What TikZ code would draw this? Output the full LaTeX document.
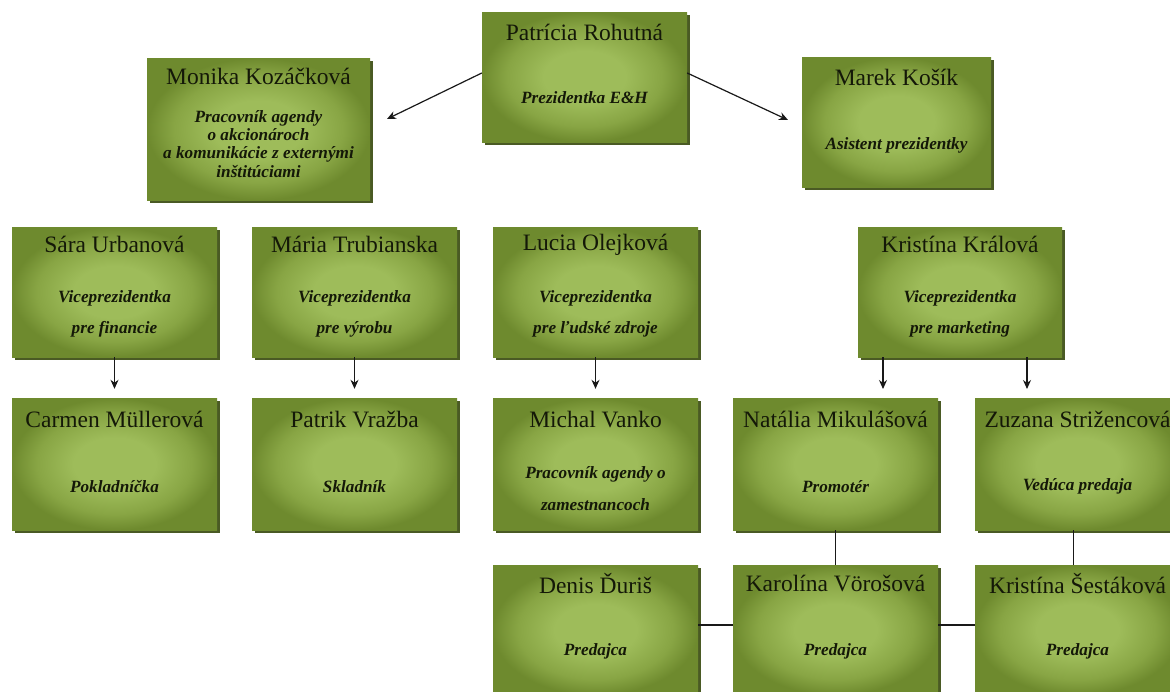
\documentclass[tikz,border=0pt]{standalone}
\usepackage{fontspec}
\setmainfont{Liberation Serif}
\usetikzlibrary{shadows,arrows.meta}
\definecolor{gl}{RGB}{158,188,90}
\definecolor{gm}{RGB}{136,165,68}
\definecolor{gd}{RGB}{110,138,46}
\definecolor{gs}{RGB}{74,90,36}
\definecolor{txt}{RGB}{20,24,8}
\definecolor{ln}{RGB}{25,25,25}
\pgfdeclareradialshading{orgshade}{\pgfpoint{0bp}{0bp}}{color(0bp)=(gl); color(10bp)=(gl); color(19bp)=(gm); color(25bp)=(gd); color(50bp)=(gd)}
\tikzset{
  box/.style={rectangle, inner sep=0pt, shading=orgshade, draw=none,
    drop shadow={shadow xshift=2.5pt, shadow yshift=-2.5pt, fill=gs, opacity=1}},
  nm/.style={inner sep=0pt, text=txt, font=\fontsize{23.5}{26}\selectfont},
  rl/.style={inner sep=0pt, text=txt, align=center, font=\fontsize{17.2}{31}\selectfont\bfseries\itshape},
  rlt/.style={rl, font=\fontsize{17.2}{18.4}\selectfont\bfseries\itshape},
  arr/.style={draw=ln, line width=1.2pt, -{Stealth[length=9pt,width=8pt]}},
  con/.style={draw=ln, line width=1.2pt}
}
\begin{document}
\begin{tikzpicture}[x=1pt,y=-1pt]
\useasboundingbox (0,0) rectangle (1170,691);
\clip (0,0) rectangle (1170,691);
\fill[white] (0,0) rectangle (1170,691);
% row 1
\node[box, minimum width=205pt, minimum height=130pt] (P) at (584.5,77) {};
\node[nm] (Pn) at ([yshift=-21pt]P.north) {Patrícia Rohutná};
\node[rl] (Pr) at ([yshift=-86pt]P.north) {Prezidentka E\&H};
\node[box, minimum width=223pt, minimum height=142pt] (Mo) at (258.5,129) {};
\node[nm] (Mon) at ([yshift=-19pt]Mo.north) {Monika Kozáčková};
\node[rlt] (Mor) at ([yshift=-86pt]Mo.north) {Pracovník agendy\\o akcionároch\\a komunikácie z externými\\inštitúciami};
\node[box, minimum width=189pt, minimum height=130pt] (Ma) at (896.5,122) {};
\node[nm] (Man) at ([yshift=-21pt]Ma.north) {Marek Košík};
\node[rl] (Mar) at ([yshift=-89pt]Ma.north) {Asistent prezidentky};
% row 2
\node[box, minimum width=205pt, minimum height=130pt] (Sa) at (114.5,292) {};
\node[nm] (San) at ([yshift=-18pt]Sa.north) {Sára Urbanová};
\node[rl] (Sar) at ([yshift=-87.5pt]Sa.north) {Viceprezidentka\\pre financie};
\node[box, minimum width=205pt, minimum height=130pt] (Mt) at (354.5,292) {};
\node[nm] (Mtn) at ([yshift=-18pt]Mt.north) {Mária Trubianska};
\node[rl] (Mtr) at ([yshift=-87.5pt]Mt.north) {Viceprezidentka\\pre výrobu};
\node[box, minimum width=205pt, minimum height=130pt] (Lu) at (595.5,292) {};
\node[nm] (Lun) at ([yshift=-18pt]Lu.north) {Lucia Olejková};
\node[rl] (Lur) at ([yshift=-87.5pt]Lu.north) {Viceprezidentka\\pre ľudské zdroje};
\node[box, minimum width=204pt, minimum height=130pt] (Kk) at (960,292) {};
\node[nm] (Kkn) at ([yshift=-18pt]Kk.north) {Kristína Králová};
\node[rl] (Kkr) at ([yshift=-87.5pt]Kk.north) {Viceprezidentka\\pre marketing};
% row 3
\node[box, minimum width=205pt, minimum height=132pt] (Ca) at (114.5,464) {};
\node[nm] (Can) at ([yshift=-22pt]Ca.north) {Carmen Müllerová};
\node[rl] (Car) at ([yshift=-89pt]Ca.north) {Pokladníčka};
\node[box, minimum width=205pt, minimum height=132pt] (Pv) at (354.5,464) {};
\node[nm] (Pvn) at ([yshift=-22pt]Pv.north) {Patrik Vražba};
\node[rl] (Pvr) at ([yshift=-89pt]Pv.north) {Skladník};
\node[box, minimum width=205pt, minimum height=132pt] (Mv) at (595.5,464) {};
\node[nm] (Mvn) at ([yshift=-22pt]Mv.north) {Michal Vanko};
\node[rl, font=\fontsize{17.2}{32}\selectfont\bfseries\itshape] (Mvr) at ([yshift=-91pt]Mv.north) {Pracovník agendy o\\zamestnancoch};
\node[box, minimum width=205pt, minimum height=132pt] (Na) at (835.5,464) {};
\node[nm] (Nan) at ([yshift=-22pt]Na.north) {Natália Mikulášová};
\node[rl] (Nar) at ([yshift=-89pt]Na.north) {Promotér};
\node[box, minimum width=205pt, minimum height=132pt] (Zu) at (1077.5,464) {};
\node[nm] (Zun) at ([yshift=-22pt]Zu.north) {Zuzana Strižencová};
\node[rl] (Zur) at ([yshift=-89pt]Zu.north) {Vedúca predaja};
% row 4
\node[box, minimum width=205pt, minimum height=130pt] (De) at (595.5,630) {};
\node[nm] (Den) at ([yshift=-19pt]De.north) {Denis Ďuriš};
\node[rl] (Der) at ([yshift=-87pt]De.north) {Predajca};
\node[box, minimum width=205pt, minimum height=130pt] (Ka) at (835.5,630) {};
\node[nm] (Kan) at ([yshift=-19pt]Ka.north) {Karolína Vörošová};
\node[rl] (Kar) at ([yshift=-87pt]Ka.north) {Predajca};
\node[box, minimum width=205pt, minimum height=130pt] (Ks) at (1077.5,630) {};
\node[nm] (Ksn) at ([yshift=-19pt]Ks.north) {Kristína Šestáková};
\node[rl] (Ksr) at ([yshift=-87pt]Ks.north) {Predajca};
% free ends
\coordinate (aL) at (387,119);
\coordinate (aR) at (788,120);
\coordinate (k1s) at (883,357);
\coordinate (k1e) at (883,389);
\coordinate (k2s) at (1027,357);
\coordinate (k2e) at (1027,389);
% connectors
\draw[arr] ([yshift=4pt]P.west) -- (aL);
\draw[arr] ([yshift=4pt]P.east) -- (aR);
\draw[arr] (Sa.south) -- ([yshift=9pt]Ca.north);
\draw[arr] (Mt.south) -- ([yshift=9pt]Pv.north);
\draw[arr] (Lu.south) -- ([yshift=9pt]Mv.north);
\draw[arr] (k1s) -- (k1e);
\draw[arr] (k2s) -- (k2e);
\draw[con] (Na.south) -- (Ka.north);
\draw[con] ([xshift=-4pt]Zu.south) -- ([xshift=-4pt]Ks.north);
\draw[con] ([yshift=5pt]De.east) -- ([yshift=5pt]Ka.west);
\draw[con] ([yshift=5pt]Ka.east) -- ([yshift=5pt]Ks.west);
\end{tikzpicture}
\end{document}
